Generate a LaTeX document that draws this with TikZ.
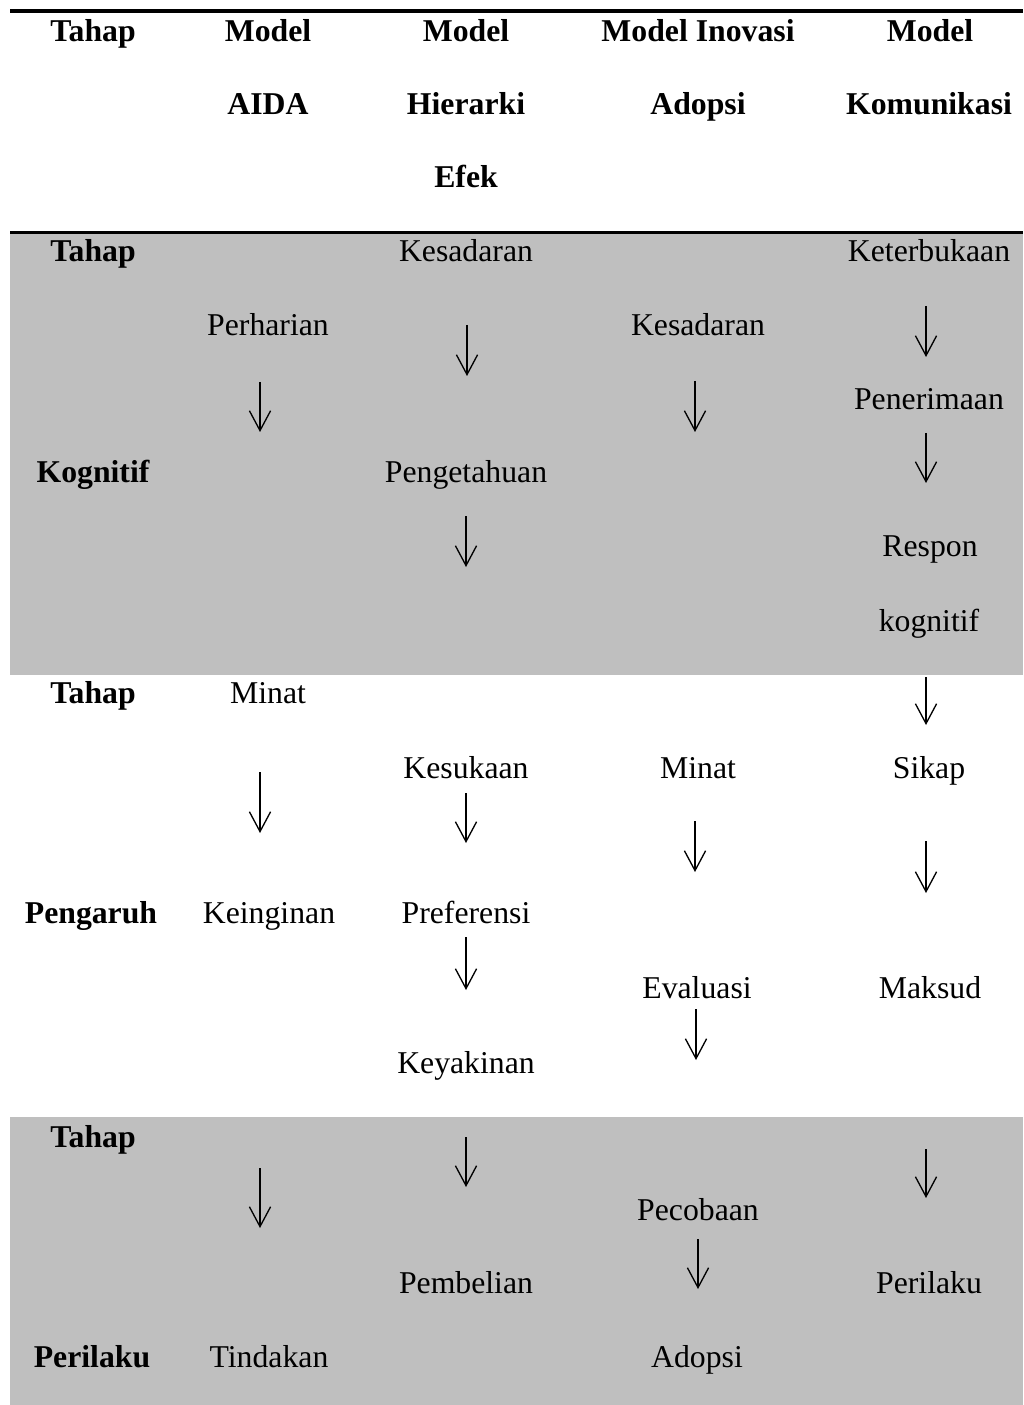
\documentclass[tikz,border=0pt]{standalone}
\usepackage{fontspec}
\setmainfont{Liberation Serif}
\usepackage{xcolor}
\usetikzlibrary{arrows.meta}
\definecolor{stagegray}{RGB}{191,191,191}
\tikzset{
  cell/.style={anchor=base, inner sep=0pt, font=\fontsize{12}{14}\selectfont},
  headcell/.style={cell, font=\fontsize{12}{14}\selectfont\bfseries},
  downarrow/.style={-{Straight Barb[length=7.5pt,width=8pt]}, line width=0.5pt},
  tablerule/.style={line width=1.3pt}
}

\begin{document}
\begin{tikzpicture}[x=0.378pt, y=-0.378pt]
        \useasboundingbox (0,0) rectangle (1023,1405);
        % shaded bands
        \fill[stagegray] (10,233) rectangle (1023,675);
        \fill[stagegray] (10,1117) rectangle (1023,1405);
        \draw[tablerule] (10,11) -- (1023,11);
        \draw[tablerule] (10,232.5) -- (1023,232.5);

        % header
        \node[headcell] (hTahap) at (93,42) {Tahap};
        \node[headcell] (hAida1) at (268,42) {Model};
        \node[headcell] (hAida2) at (268,115) {AIDA};
        \node[headcell] (hHier1) at (466,42) {Model};
        \node[headcell] (hHier2) at (466,115) {Hierarki};
        \node[headcell] (hHier3) at (466,188) {Efek};
        \node[headcell] (hInov1) at (698,42) {Model Inovasi};
        \node[headcell] (hInov2) at (698,115) {Adopsi};
        \node[headcell] (hKom1) at (930,42) {Model};
        \node[headcell] (hKom2) at (929,115) {Komunikasi};

        % Tahap Kognitif
        \begin{scope}
            \node[headcell] (kogTahap) at (93,262) {Tahap};
            \node[headcell] (kogLabel) at (93,483) {Kognitif};
            \node[cell] (aidaPerhatian) at (268,336) {Perharian};
            \node[cell] (hierSadar) at (466,262) {Kesadaran};
            \node[cell] (hierTahu) at (466,483) {Pengetahuan};
            \node[cell] (inovSadar) at (698,336) {Kesadaran};
            \node[cell] (komBuka) at (929,262) {Keterbukaan};
            \node[cell] (komTerima) at (929,410) {Penerimaan};
            \node[cell] (komRespon) at (930,557) {Respon};
            \node[cell] (komKog) at (929,631) {kognitif};
            \draw[downarrow] (260,382) -- (260,432);
            \draw[downarrow] (467,325) -- (467,376);
            \draw[downarrow] (466,516) -- (466,567);
            \draw[downarrow] (695,381) -- (695,432);
            \draw[downarrow] (926,306) -- (926,357);
            \draw[downarrow] (926,433) -- (926,483);
        \end{scope}

        % Tahap Pengaruh
        \begin{scope}
            \node[headcell] (pgrTahap) at (93,703) {Tahap};
            \node[headcell] (pgrLabel) at (91,923) {Pengaruh};
            \node[cell] (aidaMinat) at (268,703) {Minat};
            \node[cell] (aidaIngin) at (269,923) {Keinginan};
            \node[cell] (hierSuka) at (466,778) {Kesukaan};
            \node[cell] (hierPref) at (466,923) {Preferensi};
            \node[cell] (hierYakin) at (466,1073) {Keyakinan};
            \node[cell] (inovMinat) at (698,778) {Minat};
            \node[cell] (inovEval) at (697,998) {Evaluasi};
            \node[cell] (komSikap) at (929,778) {Sikap};
            \node[cell] (komMaksud) at (930,998) {Maksud};
            \draw[downarrow] (926,677) -- (926,725);
            \draw[downarrow] (260,772) -- (260,833);
            \draw[downarrow] (466,793) -- (466,843);
            \draw[downarrow] (695,821) -- (695,872);
            \draw[downarrow] (926,841) -- (926,893);
            \draw[downarrow] (466,937) -- (466,990);
            \draw[downarrow] (696,1009) -- (696,1060);
        \end{scope}

        % Tahap Perilaku
        \begin{scope}
            \node[headcell] (prlTahap) at (93,1147) {Tahap};
            \node[headcell] (prlLabel) at (92,1367) {Perilaku};
            \node[cell] (aidaTindak) at (269,1367) {Tindakan};
            \node[cell] (hierBeli) at (466,1293) {Pembelian};
            \node[cell] (inovCoba) at (698,1220) {Pecobaan};
            \node[cell] (inovAdopsi) at (697,1367) {Adopsi};
            \node[cell] (komPerilaku) at (929,1293) {Perilaku};
            \draw[downarrow] (466,1137) -- (466,1187);
            \draw[downarrow] (926,1149) -- (926,1198);
            \draw[downarrow] (260,1168) -- (260,1228);
            \draw[downarrow] (698,1239) -- (698,1289);
        \end{scope}
    \end{tikzpicture}
\end{document}
